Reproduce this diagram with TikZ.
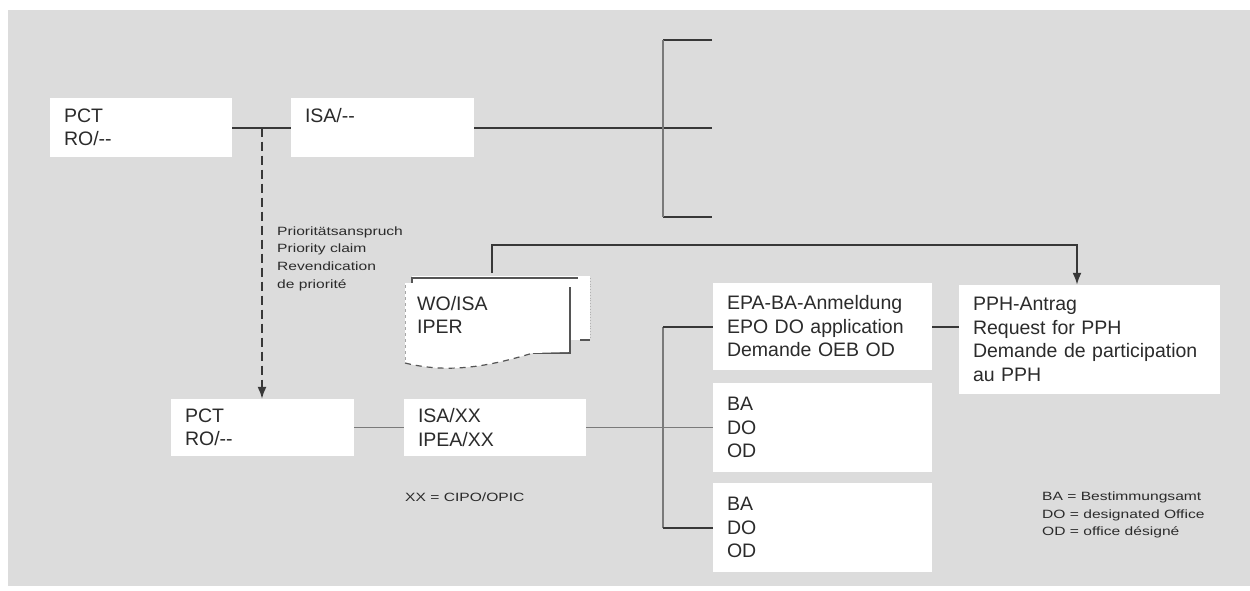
\documentclass[tikz,border=0pt]{standalone}
\usepackage{fontspec}
\setmainfont{Liberation Sans}
\newfontfamily\smallfnt[FakeStretch=1.3]{Liberation Sans}
\usetikzlibrary{arrows.meta}
\definecolor{bggray}{HTML}{DCDCDC}
\definecolor{ink}{HTML}{2B2B2B}
\definecolor{linedark}{HTML}{383838}
\definecolor{linegray}{HTML}{7A7A7A}
\definecolor{paperedge}{HTML}{555555}
\begin{document}
\begin{tikzpicture}[x=1pt,y=-1pt,
  box/.style={fill=white, inner xsep=14pt, inner ysep=0pt, align=left, text=ink,
    font=\fontsize{19.5}{23.5}\selectfont},
  small/.style={text=ink, align=left, inner sep=0pt,
    font=\smallfnt\fontsize{12}{17.7}\selectfont},
  conn/.style={draw=linedark, line width=2pt},
  connlight/.style={draw=linegray, line width=1.5pt},
  dashconn/.style={draw=linedark, line width=1.6pt, dash pattern=on 9pt off 5pt},
  tip/.style={-{Latex[length=12pt,width=9pt]}}]
\useasboundingbox (0,0) rectangle (1250,590);
\fill[bggray] (8,10) rectangle (1250,586);

% upper boxes
\node[box, minimum width=182pt, minimum height=59pt, text width=154pt] (pct1) at (141,127.5) {PCT\\RO/-{}-};
\node[box, minimum width=183pt, minimum height=59pt, text width=155pt] (isa1) at (382.5,127.5) {ISA/-{}-\\\mbox{}};

% right column boxes
\node[box, minimum width=219pt, minimum height=87pt, text width=191pt] (epa) at (822.5,326.5) {EPA-BA-Anmeldung\\EPO DO application\\Demande OEB OD};
\node[box, minimum width=261pt, minimum height=109pt, text width=233pt] (pph) at (1089.5,339.5) {PPH-Antrag\\Request for PPH\\Demande de participation\\au PPH};
\node[box, minimum width=219pt, minimum height=89pt, text width=191pt] (ba1) at (822.5,427.5) {BA\\DO\\OD};
\node[box, minimum width=219pt, minimum height=89pt, text width=191pt] (ba2) at (822.5,527.5) {BA\\DO\\OD};

% lower boxes
\node[box, minimum width=183pt, minimum height=57pt, text width=155pt] (pct2) at (262.5,427.5) {PCT\\RO/-{}-};
\node[box, minimum width=182pt, minimum height=57pt, text width=154pt] (isa2) at (495,427.5) {ISA/XX\\IPEA/XX};

% WO/ISA document stack
\fill[white] (412,276) rectangle (590,340);
\draw[gray!60, line width=0.8pt, dotted] (590,278) -- (590,338);
\draw[paperedge, line width=1.2pt] (580,340) -- (590,340);
\fill[white] (412,280) rectangle (570,353);
\draw[paperedge, line width=1.4pt] (412,286) -- (412,278) -- (578,278);
\draw[paperedge, line width=1.4pt] (570,287) -- (570,353) -- (533,353);
\fill[white] (405,283) -- (568,283) -- (568,352) -- (533,353)
  .. controls (490,366) and (450,374) .. (405,363) -- cycle;
\draw[gray!70, line width=1pt, dash pattern=on 3pt off 3pt] (405,285) -- (405,363);
\draw[paperedge, line width=1.2pt, dash pattern=on 6pt off 5pt] (405,363)
  .. controls (450,374) and (490,366) .. (533,353);
\node[box, fill=none, inner xsep=0pt, anchor=west] (wo) at (417,315) {WO/ISA\\IPER};

% upper connectors
\draw[conn] (pct1.east) -- (isa1.west);
\coordinate (j1) at (262,127.5);
\draw[dashconn, tip] (j1) -- (j1 |- pct2.north);
\coordinate (b1) at (712,40);
\coordinate (b2) at (712,127.5);
\coordinate (b3) at (712,217);
\coordinate (bv1) at (663,40);
\coordinate (bv3) at (663,217);
\draw[conn] (isa1.east) -- (b2);
\draw[conn] (b1) -- (bv1);
\draw[conn] (bv3) -- (b3);
\draw[draw=linegray, line width=1.2pt] (bv1) -- (bv3);

% priority text
\node[small, anchor=west] (prio) at (277,258.5) {Prioritätsanspruch\\Priority claim\\Revendication\\de priorité};

% WO/ISA to PPH
\coordinate (wtop) at (492,273);
\coordinate (k) at (1077,245);
\draw[conn, tip] (wtop) |- (k) -- (k |- pph.north);

% lower connectors
\coordinate (v) at (663,0);
\draw[connlight] (pct2.east) -- (isa2.west);
\draw[connlight] (isa2.east) -- (ba1.west);
\draw[draw=linegray, line width=1.2pt] (epa.west -| v) -- (ba2.west -| v);
\draw[conn] (epa.west -| v) -- (epa.west);
\draw[conn] (ba2.west -| v) -- (ba2.west);
\draw[conn] (epa.east) -- (epa.east -| pph.west);

% notes
\node[small, anchor=west] (xx) at (405,497) {XX = CIPO/OPIC};
\node[small, anchor=west] (legend) at (1042,515) {BA = Bestimmungsamt\\DO = designated Office\\OD = office désigné};
\end{tikzpicture}
\end{document}
